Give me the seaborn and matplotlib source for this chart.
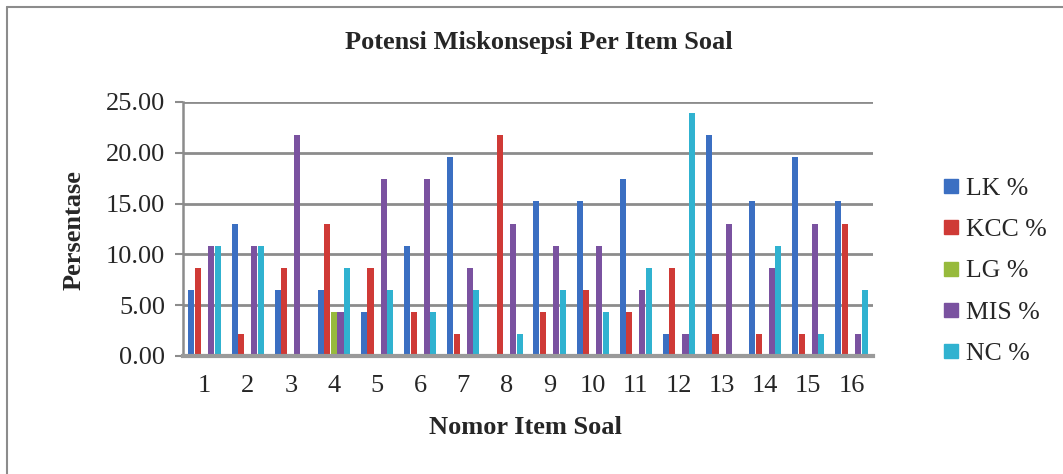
import matplotlib
matplotlib.use("Agg")
import matplotlib.pyplot as plt
import seaborn as sns
import pandas as pd
from matplotlib.lines import Line2D

items = [str(i) for i in range(1, 17)]
series = ["LK %", "KCC %", "LG %", "MIS %", "NC %"]
lk  = [6.52, 13.04, 6.52, 6.52, 4.35, 10.87, 19.57, 0.00, 15.22, 15.22, 17.39, 2.17, 21.74, 15.22, 19.57, 15.22]
kcc = [8.70, 2.17, 8.70, 13.04, 8.70, 4.35, 2.17, 21.74, 4.35, 6.52, 4.35, 8.70, 2.17, 2.17, 2.17, 13.04]
lg  = [0.00, 0.00, 0.00, 4.35, 0.00, 0.00, 0.00, 0.00, 0.00, 0.00, 0.00, 0.00, 0.00, 0.00, 0.00, 0.00]
mis = [10.87, 10.87, 21.74, 4.35, 17.39, 17.39, 8.70, 13.04, 10.87, 10.87, 6.52, 2.17, 13.04, 8.70, 13.04, 2.17]
nc  = [10.87, 10.87, 0.00, 8.70, 6.52, 4.35, 6.52, 2.17, 6.52, 4.35, 8.70, 23.91, 0.00, 10.87, 2.17, 6.52]
colors = ["#3b6fc2", "#cf3a36", "#97ba3c", "#7a52a0", "#30b2d0"]

rows = []
for name, vals in zip(series, [lk, kcc, lg, mis, nc]):
    for it, v in zip(items, vals):
        rows.append({"Item": it, "Series": name, "Value": v})
df = pd.DataFrame(rows)

sns.set_style("white")
plt.rcParams["font.family"] = ["Liberation Serif", "DejaVu Serif"]

W, H = 1063, 474
fig = plt.figure(figsize=(W / 100, H / 100), dpi=100)
ax = fig.add_axes([183 / W, 1 - 356 / H, (873 - 183) / W, (356 - 102) / H])

sns.barplot(data=df, x="Item", y="Value", hue="Series", order=items, hue_order=series,
            palette=colors, width=0.76, gap=0.08, ax=ax, legend=False, saturation=1,
            linewidth=0)

ax.set_ylim(0, 25)
ax.set_yticks([0, 5, 10, 15, 20, 25])
ax.set_yticklabels([f"{v:.2f}" for v in [0, 5, 10, 15, 20, 25]], fontsize=19)
ax.tick_params(axis="x", labelsize=19, length=0, pad=14)
ax.tick_params(axis="y", length=6, width=1.5, color="#8c8c8c", pad=7, left=True)
ax.yaxis.grid(True, color="#8c8c8c", linewidth=2)
ax.set_axisbelow(True)
for s in ["top", "right"]:
    ax.spines[s].set_visible(False)
ax.spines["left"].set_color("#8c8c8c")
ax.spines["left"].set_linewidth(1.8)
ax.spines["bottom"].set_color("#9a9a9a")
ax.spines["bottom"].set_linewidth(3)
ax.set_xlabel("")
ax.set_ylabel("")

fig.text(539 / W, 1 - 43 / H, "Potensi Miskonsepsi Per Item Soal", fontsize=19,
         fontweight="bold", ha="center", va="center")
fig.text(74 / W, 1 - 230 / H, "Persentase", fontsize=19, fontweight="bold",
         rotation=90, ha="center", va="center")
fig.text(525 / W, 1 - 428 / H, "Nomor Item Soal", fontsize=19, fontweight="bold",
         ha="center", va="center")

handles = [Line2D([0], [0], marker="s", linestyle="", markersize=10,
                  markerfacecolor=c, markeredgecolor=c) for c in colors]
fig.legend(handles, series, loc="center left", bbox_to_anchor=(930 / W, 1 - 271 / H),
           frameon=False, fontsize=18.5, handlelength=0.6, handletextpad=0.3,
           labelspacing=0.72, borderpad=0)

fig.add_artist(Line2D([7 / W, 1.0], [1 - 7 / H, 1 - 7 / H], color="#8c8c8c", lw=1.5,
                      transform=fig.transFigure))
fig.add_artist(Line2D([7 / W, 7 / W], [0, 1 - 7 / H], color="#8c8c8c", lw=1.5,
                      transform=fig.transFigure))

fig.savefig("out.png", dpi=100)
